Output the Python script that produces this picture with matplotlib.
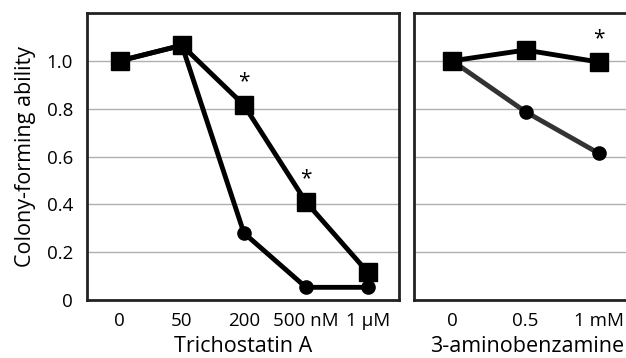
import matplotlib
matplotlib.use("Agg")
import matplotlib.pyplot as plt

plt.rcParams['font.family'] = ['Open Sans', 'DejaVu Sans']

tsa_labels = ["0", "50", "200", "500 nM", "1 \u00b5M"]
tsa_square = [1.0, 1.065, 0.815, 0.41, 0.115]
tsa_circle = [1.0, 1.065, 0.28, 0.053, 0.053]
tsa_star = [2, 3]

ab_labels = ["0", "0.5", "1 mM"]
ab_square = [1.0, 1.045, 0.995]
ab_circle = [1.0, 0.787, 0.613]
ab_star = [2]

yticks = [0, 0.2, 0.4, 0.6, 0.8, 1.0]
yticklabels = ["0", "0.2", "0.4", "0.6", "0.8", "1.0"]

W, H = 626, 358
fig = plt.figure(figsize=(W / 100, H / 100), dpi=100)

def px(l, t, r, b):
    return [l / W, 1 - b / H, (r - l) / W, (b - t) / H]

ax1 = fig.add_axes(px(87, 13, 399, 300))
ax2 = fig.add_axes(px(414, 13, 640, 300))

def style(ax, labels, show_y):
    ax.set_ylim(0, 1.2)
    ax.set_yticks(yticks)
    ax.yaxis.grid(True, color='#b0b0b0', linewidth=1)
    ax.set_axisbelow(True)
    for s in ax.spines.values():
        s.set_linewidth(2)
        s.set_color('#222222')
    ax.set_xticks(range(len(labels)))
    ax.set_xticklabels(labels, fontsize=13.5)
    ax.tick_params(length=0, pad=9)
    if show_y:
        ax.set_yticklabels(yticklabels, fontsize=13.5)
        ax.tick_params(axis='y', pad=10)
    else:
        ax.tick_params(axis='y', labelleft=False)

# left panel
x1 = list(range(len(tsa_labels)))
ax1.plot(x1, tsa_circle, color='black', lw=3.5, marker='o', ms=9.5, zorder=3)
ax1.plot(x1, tsa_square, color='black', lw=3.5, marker='s', ms=13, zorder=4)
for i in tsa_star:
    ax1.text(i, tsa_square[i] + 0.055, "*", ha='center', va='bottom', fontsize=15)
ax1.set_xlim(-0.53, 4.5)
style(ax1, tsa_labels, True)
ax1.set_xlabel("Trichostatin A", fontsize=15.5, labelpad=4)
ax1.set_ylabel("Colony-forming ability", fontsize=15.5, labelpad=8)

# right panel
x2 = list(range(len(ab_labels)))
ax2.plot(x2, ab_circle, color='#333333', lw=3.5, marker='o', ms=9.5,
         markerfacecolor='black', markeredgecolor='black', zorder=3)
ax2.plot(x2, ab_square, color='black', lw=3.5, marker='s', ms=13, zorder=4)
for i in ab_star:
    ax2.text(i, ab_square[i] + 0.055, "*", ha='center', va='bottom', fontsize=15)
ax2.set_xlim(-0.52, 2.56)
style(ax2, ab_labels, False)
ax2.set_xlabel("3-aminobenzamine", fontsize=15.5, labelpad=4)

fig.savefig("out.png", dpi=100)
